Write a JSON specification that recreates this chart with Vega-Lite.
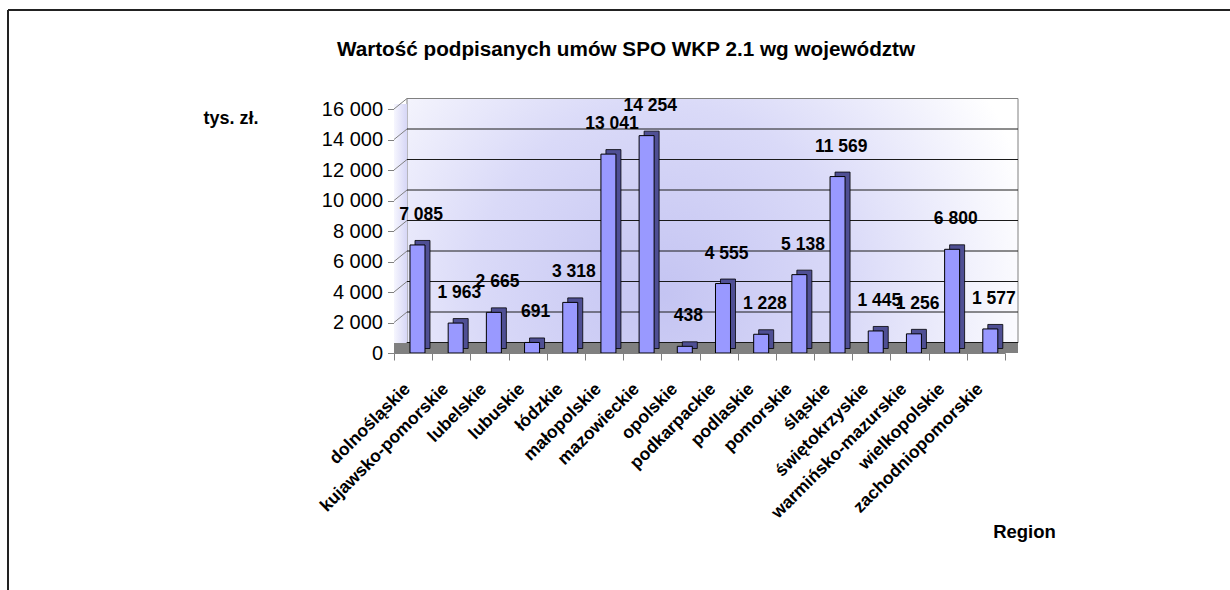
{
  "$schema": "https://vega.github.io/schema/vega-lite/v6.json",
  "width": 1222,
  "height": 580,
  "autosize": {"type": "none"},
  "padding": {"left": 8, "top": 10, "right": 0, "bottom": 0},
  "background": "white",
  "title": {
    "text": "Wartość podpisanych umów SPO WKP 2.1 wg województw",
    "anchor": "middle", "frame": "group", "offset": 0, "baseline": "alphabetic",
    "dy": 67, "dx": 7, "font": "Liberation Sans", "fontSize": 20.7, "fontWeight": "bold", "color": "#000000"
  },
  "datasets": {
    "regions": [
      {"region": "dolnośląskie", "value": 7085},
      {"region": "kujawsko-pomorskie", "value": 1963},
      {"region": "lubelskie", "value": 2665},
      {"region": "lubuskie", "value": 691},
      {"region": "łódzkie", "value": 3318},
      {"region": "małopolskie", "value": 13041},
      {"region": "mazowieckie", "value": 14254},
      {"region": "opolskie", "value": 438},
      {"region": "podkarpackie", "value": 4555},
      {"region": "podlaskie", "value": 1228},
      {"region": "pomorskie", "value": 5138},
      {"region": "śląskie", "value": 11569},
      {"region": "świętokrzyskie", "value": 1445},
      {"region": "warmińsko-mazurskie", "value": 1256},
      {"region": "wielkopolskie", "value": 6800},
      {"region": "zachodniopomorskie", "value": 1577}
    ],
    "grid": [
      {"v": 0}, {"v": 2000}, {"v": 4000}, {"v": 6000}, {"v": 8000},
      {"v": 10000}, {"v": 12000}, {"v": 14000}, {"v": 16000}
    ],
    "one": [{"k": "wall"}]
  },
  "data": {"name": "regions"},
  "layer": [
    {
      "data": {"name": "one"},
      "mark": {
        "type": "rect", "xOffset": 13, "x2Offset": 13, "yOffset": -10, "y2Offset": -10.5,
        "stroke": "#808080", "strokeWidth": 1,
        "fill": {"gradient": "radial", "x1": 0.42, "y1": 0.62, "r1": 0, "x2": 0.42, "y2": 0.62, "r2": 0.62,
          "stops": [{"offset": 0, "color": "#c4c4f2"}, {"offset": 0.5, "color": "#dadaf8"}, {"offset": 1, "color": "#ffffff"}]}
      },
      "encoding": {
        "x": {"datum": "dolnośląskie", "type": "nominal", "bandPosition": 0},
        "x2": {"datum": "zachodniopomorskie", "bandPosition": 1},
        "y": {"datum": 0, "type": "quantitative"},
        "y2": {"datum": 16000}
      }
    },
    {
      "data": {"name": "one"},
      "mark": {
        "type": "rect", "x2Offset": 13, "y2Offset": -5,
        "fill": {"gradient": "linear", "x1": 0, "y1": 0, "x2": 1, "y2": 0,
          "stops": [{"offset": 0, "color": "#f6f6fe"}, {"offset": 1, "color": "#d6d6f6"}]}
      },
      "encoding": {
        "x": {"datum": "dolnośląskie", "type": "nominal", "bandPosition": 0},
        "x2": {"datum": "dolnośląskie", "bandPosition": 0},
        "y": {"datum": 0, "type": "quantitative"},
        "y2": {"datum": 16000}
      }
    },
    {
      "data": {"name": "grid"},
      "mark": {"type": "rule", "xOffset": 13, "x2Offset": 13, "yOffset": -10.5, "strokeWidth": 1},
      "encoding": {
        "x": {"datum": "dolnośląskie", "type": "nominal", "bandPosition": 0},
        "x2": {"datum": "zachodniopomorskie", "bandPosition": 1},
        "y": {"field": "v", "type": "quantitative"},
        "color": {"condition": {"test": "datum.v == 16000", "value": "#808080"}, "value": "#1a1a1a"}
      }
    },
    {
      "data": {"name": "grid"},
      "mark": {"type": "rule", "x2Offset": 13, "y2Offset": -10.5, "strokeWidth": 1, "color": "#808080"},
      "encoding": {
        "x": {"datum": "dolnośląskie", "type": "nominal", "bandPosition": 0},
        "x2": {"datum": "dolnośląskie", "bandPosition": 0},
        "y": {"field": "v", "type": "quantitative"},
        "y2": {"field": "v"}
      }
    },
    {
      "data": {"name": "one"},
      "mark": {"type": "rect", "x2Offset": 13, "y2Offset": -10, "fill": "#808080"},
      "encoding": {
        "x": {"datum": "dolnośląskie", "type": "nominal", "bandPosition": 0},
        "x2": {"datum": "zachodniopomorskie", "bandPosition": 1},
        "y": {"datum": 0, "type": "quantitative"},
        "y2": {"datum": 0}
      }
    },
    {
      "mark": {"type": "bar", "width": 15, "xOffset": 9.4, "yOffset": -4.5, "y2Offset": -5.5,
        "fill": "#4f4f94", "stroke": "#000000", "strokeWidth": 0.8},
      "encoding": {
        "x": {"field": "region", "type": "nominal", "sort": null},
        "y": {"field": "value", "type": "quantitative"}
      }
    },
    {
      "mark": {"type": "bar", "width": 15, "xOffset": 4.4, "y2Offset": -1.3,
        "fill": "#9999ff", "stroke": "#000000", "strokeWidth": 1},
      "encoding": {
        "x": {
          "field": "region", "type": "nominal", "sort": null,
          "scale": {
            "domain": ["dolnośląskie", "kujawsko-pomorskie", "lubelskie", "lubuskie", "łódzkie", "małopolskie", "mazowieckie", "opolskie", "podkarpackie", "podlaskie", "pomorskie", "śląskie", "świętokrzyskie", "warmińsko-mazurskie", "wielkopolskie", "zachodniopomorskie"],
            "range": [386, 997], "paddingInner": 0, "paddingOuter": 0
          },
          "axis": {
            "orient": "bottom", "offset": -237,
            "title": "Region", "titleX": 1016, "titleY": 178, "titleAlign": "center", "titleBaseline": "middle",
            "titleFontSize": 18.5, "titleFontWeight": "bold", "titleColor": "#000000",
            "labelAngle": -45, "labelAlign": "right", "labelBaseline": "middle",
            "labelFontSize": 17.5, "labelFontWeight": "bold", "labelColor": "#000000",
            "labelPadding": 26, "labelOffset": -6, "labelOverlap": false, "labelLimit": 0,
            "tickSize": 7, "tickBand": "extent", "tickColor": "#808080", "domainColor": "#808080", "grid": false
          }
        },
        "y": {
          "field": "value", "type": "quantitative",
          "scale": {"domain": [0, 16000], "range": [343, 99], "nice": false, "zero": true},
          "axis": {
            "values": [0, 2000, 4000, 6000, 8000, 10000, 12000, 14000, 16000],
            "format": ",.0f", "offset": -386, "grid": false,
            "title": "tys. zł.", "titleAngle": 0, "titleX": -191, "titleY": 113, "titleAlign": "left", "titleBaseline": "alphabetic",
            "titleFontSize": 18, "titleFontWeight": "bold", "titleColor": "#000000",
            "labelFontSize": 20, "labelColor": "#000000", "labelPadding": 5,
            "tickSize": 6.5, "tickColor": "#808080", "domainColor": "#808080"
          }
        }
      }
    },
    {
      "mark": {"type": "text", "dx": 8, "dy": -30, "baseline": "middle", "align": "center",
        "fontSize": 17.5, "fontWeight": "bold", "color": "#000000"},
      "encoding": {
        "x": {"field": "region", "type": "nominal", "sort": null},
        "y": {"field": "value", "type": "quantitative"},
        "text": {"field": "value", "type": "quantitative", "format": ",.0f"}
      }
    }
  ],
  "config": {
    "locale": {"number": {"decimal": ",", "thousands": " ", "grouping": [3], "currency": ["", " zł"]}},
    "view": {"stroke": "#222222", "strokeWidth": 2, "strokeDash": [1222, 1802, 580, 0]},
    "font": "Liberation Sans",
    "axis": {"labelFont": "Liberation Sans", "titleFont": "Liberation Sans"},
    "text": {"font": "Liberation Sans"}
  }
}
